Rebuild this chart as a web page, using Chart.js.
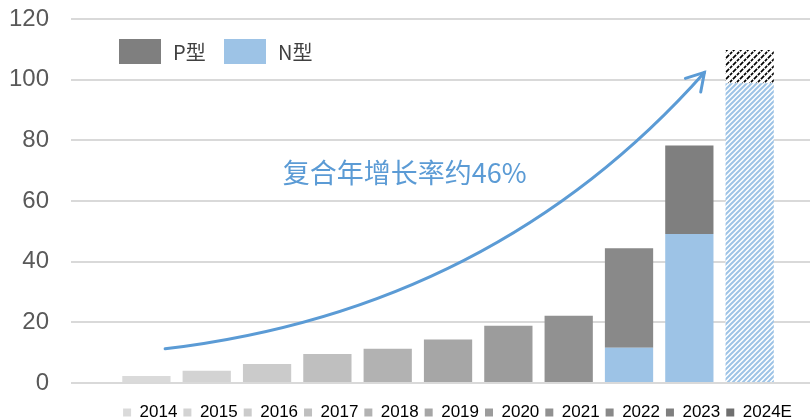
<!DOCTYPE html>
<html>
<head>
<meta charset="utf-8">
<script src="https://cdn.jsdelivr.net/npm/chart.js@4.4.1/dist/chart.umd.min.js"></script>
<style>
    html, body { margin: 0; padding: 0; background: #fff; }
    #wrap { width: 810px; height: 420px; }
</style>
</head>
<body>
<div id="wrap"><canvas id="chart" width="810" height="420"></canvas></div>
<script>
// data (GW)
const years = ['2014', '2015', '2016', '2017', '2018', '2019', '2020', '2021', '2022', '2023', '2024E']
const yearColors = ['#dadada', '#d3d3d3', '#cbcbcb', '#bfbfbf', '#b2b2b2', '#a6a6a6', '#9c9c9c', '#919191', '#898989', '#7f7f7f', '#6f6f6f']
const singleValues = [2.3, 4.0, 6.3, 9.6, 11.3, 14.3, 18.9, 22.2, null, null, null]
const nValues = [null, null, null, null, null, null, null, null, 11.6, 49.1, 98.8]
const pValues = [null, null, null, null, null, null, null, null, 32.8, 29.2, 11.0]
const yTicks = [0, 20, 40, 60, 80, 100, 120]
const typeLabels = ['P型', 'N型']
const typeColors = ['#7f7f7f', '#9dc3e6']
const growthText = '复合年增长率约46%'

// arrow + label, in data units
const arrowStart = { x: 0.31, y: 11.3 }
const arrowCtrl = { x: 5.76, y: 24.2 }
const arrowEnd = { x: 9.25, y: 102.4 }
const textPos = { x: 4.28, y: 69.3 }

const BLUE = '#5b9bd5'
const CJK = '"Noto Sans CJK SC", "Noto Sans", sans-serif'
const LAT = '"Liberation Sans", Arial, sans-serif'

function makeHatch(color, size, width, dash) {
    const c = document.createElement('canvas')
    c.width = size
    c.height = size
    const g = c.getContext('2d')
    g.fillStyle = '#fff'
    g.fillRect(0, 0, size, size)
    g.strokeStyle = color
    g.lineWidth = width
    if (dash) g.setLineDash(dash)
    g.beginPath()
    g.moveTo(-1, size + 1); g.lineTo(size + 1, -1)
    g.moveTo(-1, 1); g.lineTo(1, -1)
    g.moveTo(size - 1, size + 1); g.lineTo(size + 1, size - 1)
    g.stroke()
    return g.createPattern(c, 'repeat')
}

const blueHatch = makeHatch('#9dc3e6', 5, 2)
const blackHatch = makeHatch('#000', 7, 1.7, [3, 1.2])

function toPoints(values) {
    return values.map((v, i) => ({ x: i, y: v }))
}

const nColors = nValues.map((v, i) => i === years.length - 1 ? blueHatch : typeColors[1])
const pColors = pValues.map((v, i) => i === years.length - 1 ? blackHatch : yearColors[i])

const typeLegend = {
    id: 'typeLegend',
    afterLayout(chart) {
        // year legend sits a bit right of the plot centre
        chart.legend.left += 17
        chart.legend.right += 17
    },
    afterDraw(chart) {
        const ctx = chart.ctx
        const a = chart.chartArea
        ctx.save()
        ctx.font = '20px ' + CJK
        ctx.textBaseline = 'middle'
        let x = a.left + 48
        const y = a.top + 20
        typeLabels.forEach((lab, i) => {
            ctx.fillStyle = typeColors[i]
            ctx.fillRect(x, y, 42, 25)
            ctx.fillStyle = '#404040'
            ctx.fillText(lab, x + 54, y + 13)
            x += 105
        })
        ctx.restore()
    }
}

const growthArrow = {
    id: 'growthArrow',
    afterDatasetsDraw(chart) {
        const xs = chart.scales.x
        const ys = chart.scales.y
        const p = (pt) => ({ x: xs.getPixelForValue(pt.x), y: ys.getPixelForValue(pt.y) })
        const s = p(arrowStart), c = p(arrowCtrl), e = p(arrowEnd)
        const ctx = chart.ctx
        ctx.save()
        ctx.strokeStyle = BLUE
        ctx.lineWidth = 3
        ctx.lineCap = 'round'
        ctx.beginPath()
        ctx.moveTo(s.x, s.y)
        ctx.quadraticCurveTo(c.x, c.y, e.x, e.y)
        ctx.stroke()
        // arrow head
        const ang = Math.atan2(c.y - e.y, c.x - e.x)
        const len = 20
        const spread = 0.54
        ctx.beginPath()
        ctx.moveTo(e.x + len * Math.cos(ang + spread), e.y + len * Math.sin(ang + spread))
        ctx.lineTo(e.x, e.y)
        ctx.lineTo(e.x + len * Math.cos(ang - spread), e.y + len * Math.sin(ang - spread))
        ctx.stroke()
        // label
        const t = p(textPos)
        ctx.fillStyle = BLUE
        ctx.font = '27px ' + CJK
        ctx.textAlign = 'center'
        ctx.textBaseline = 'middle'
        ctx.fillText(growthText, t.x, t.y)
        ctx.restore()
    }
}

new Chart(document.getElementById('chart'), {
    type: 'bar',
    data: {
        datasets: [
            { label: 'single', data: toPoints(singleValues), backgroundColor: yearColors, stack: 'a' },
            { label: typeLabels[1], data: toPoints(nValues), backgroundColor: nColors, stack: 'a' },
            { label: typeLabels[0], data: toPoints(pValues), backgroundColor: pColors, stack: 'a' }
        ]
    },
    options: {
        responsive: false,
        animation: false,
        barPercentage: 0.8,
        categoryPercentage: 1,
        layout: { padding: { top: 19, right: 0, left: 0, bottom: -11 } },
        scales: {
            x: {
                type: 'linear',
                min: -1.25,
                max: 11,
                offset: false,
                grid: { display: false, offset: false },
                border: { display: false },
                ticks: { display: false },
                afterFit(scale) { scale.height = 15 }
            },
            y: {
                stacked: true,
                min: 0,
                max: 120,
                afterBuildTicks(scale) { scale.ticks = yTicks.map(v => ({ value: v })) },
                afterFit(scale) {
                    scale.width = 71
                    scale.paddingTop = 0
                    scale.paddingBottom = 0
                },
                grid: { color: '#d9d9d9', lineWidth: 2, drawTicks: false },
                border: { display: false },
                ticks: { padding: 22, color: '#595959', font: { size: 24, family: LAT } }
            }
        },
        plugins: {
            tooltip: { enabled: false },
            legend: {
                position: 'bottom',
                fullSize: false,
                onClick: null,
                labels: {
                    boxWidth: 8,
                    boxHeight: 8,
                    padding: 6,
                    color: '#595959',
                    font: { size: 17, family: LAT },
                    generateLabels: () => years.map((y, i) => ({
                        text: y,
                        fillStyle: yearColors[i],
                        strokeStyle: yearColors[i],
                        lineWidth: 0,
                        hidden: false,
                        datasetIndex: 0
                    }))
                }
            }
        }
    },
    plugins: [growthArrow, typeLegend]
})
</script>
</body>
</html>
